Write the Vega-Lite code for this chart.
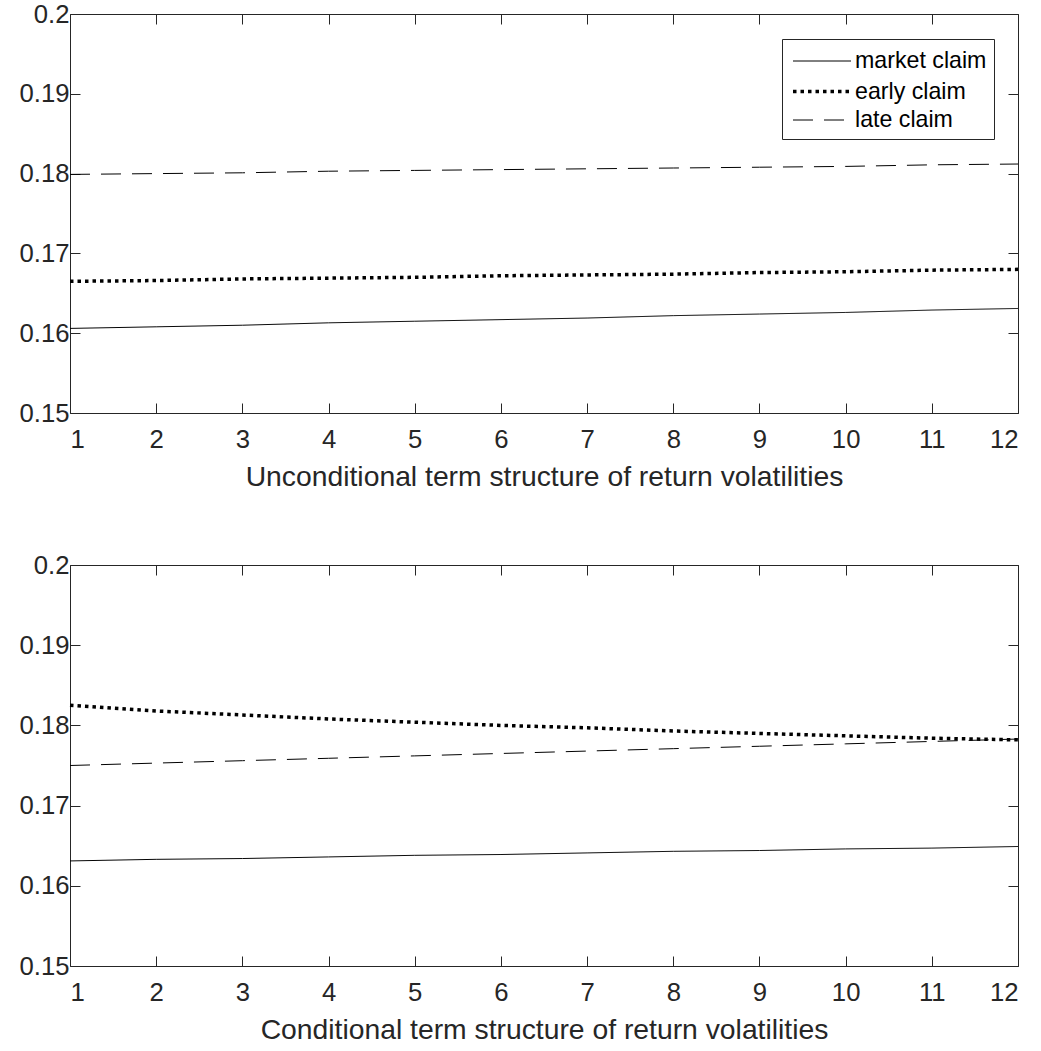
{
  "$schema": "https://vega.github.io/schema/vega-lite/v6.json",
  "padding": {"left": 18, "top": 0, "right": 5, "bottom": 5},
  "background": "white",
  "config": {
    "font": "Liberation Sans",
    "view": {"stroke": "#262626", "strokeWidth": 1},
    "axis": {
      "domain": false, "grid": false,
      "tickColor": "#262626", "tickSize": -10, "tickWidth": 1,
      "labelColor": "#262626", "labelFontSize": 25.7, "labelFont": "Liberation Sans",
      "titleColor": "#262626", "titleFontSize": 28.3, "titleFontWeight": "normal", "titleFont": "Liberation Sans"
    },
    "legend": {
      "orient": "none", "legendX": 712, "legendY": 25,
      "strokeColor": "#262626", "fillColor": "white", "padding": 7,
      "symbolType": "M-2,0H2", "symbolSize": 841, "symbolStrokeColor": "black", "symbolOffset": 16.5,
      "labelFontSize": 23.2, "labelColor": "#000000", "labelFont": "Liberation Sans",
      "labelOffset": 16.5, "rowPadding": 2
    }
  },
  "data": {"values": [
    {"panel": "top", "series": "market claim", "term": 1, "value": 0.1606},
    {"panel": "top", "series": "market claim", "term": 2, "value": 0.1608},
    {"panel": "top", "series": "market claim", "term": 3, "value": 0.1610},
    {"panel": "top", "series": "market claim", "term": 4, "value": 0.1613},
    {"panel": "top", "series": "market claim", "term": 5, "value": 0.1615},
    {"panel": "top", "series": "market claim", "term": 6, "value": 0.1617},
    {"panel": "top", "series": "market claim", "term": 7, "value": 0.1619},
    {"panel": "top", "series": "market claim", "term": 8, "value": 0.1622},
    {"panel": "top", "series": "market claim", "term": 9, "value": 0.1624},
    {"panel": "top", "series": "market claim", "term": 10, "value": 0.1626},
    {"panel": "top", "series": "market claim", "term": 11, "value": 0.1629},
    {"panel": "top", "series": "market claim", "term": 12, "value": 0.1631},
    {"panel": "top", "series": "early claim", "term": 1, "value": 0.1665},
    {"panel": "top", "series": "early claim", "term": 2, "value": 0.1666},
    {"panel": "top", "series": "early claim", "term": 3, "value": 0.1668},
    {"panel": "top", "series": "early claim", "term": 4, "value": 0.1669},
    {"panel": "top", "series": "early claim", "term": 5, "value": 0.1670},
    {"panel": "top", "series": "early claim", "term": 6, "value": 0.1672},
    {"panel": "top", "series": "early claim", "term": 7, "value": 0.1673},
    {"panel": "top", "series": "early claim", "term": 8, "value": 0.1674},
    {"panel": "top", "series": "early claim", "term": 9, "value": 0.1676},
    {"panel": "top", "series": "early claim", "term": 10, "value": 0.1677},
    {"panel": "top", "series": "early claim", "term": 11, "value": 0.1679},
    {"panel": "top", "series": "early claim", "term": 12, "value": 0.1680},
    {"panel": "top", "series": "late claim", "term": 1, "value": 0.1799},
    {"panel": "top", "series": "late claim", "term": 2, "value": 0.1800},
    {"panel": "top", "series": "late claim", "term": 3, "value": 0.1801},
    {"panel": "top", "series": "late claim", "term": 4, "value": 0.1803},
    {"panel": "top", "series": "late claim", "term": 5, "value": 0.1804},
    {"panel": "top", "series": "late claim", "term": 6, "value": 0.1805},
    {"panel": "top", "series": "late claim", "term": 7, "value": 0.1806},
    {"panel": "top", "series": "late claim", "term": 8, "value": 0.1807},
    {"panel": "top", "series": "late claim", "term": 9, "value": 0.1808},
    {"panel": "top", "series": "late claim", "term": 10, "value": 0.1809},
    {"panel": "top", "series": "late claim", "term": 11, "value": 0.1811},
    {"panel": "top", "series": "late claim", "term": 12, "value": 0.1812},
    {"panel": "bottom", "series": "market claim", "term": 1, "value": 0.1631},
    {"panel": "bottom", "series": "market claim", "term": 2, "value": 0.1633},
    {"panel": "bottom", "series": "market claim", "term": 3, "value": 0.1634},
    {"panel": "bottom", "series": "market claim", "term": 4, "value": 0.1636},
    {"panel": "bottom", "series": "market claim", "term": 5, "value": 0.1638},
    {"panel": "bottom", "series": "market claim", "term": 6, "value": 0.1639},
    {"panel": "bottom", "series": "market claim", "term": 7, "value": 0.1641},
    {"panel": "bottom", "series": "market claim", "term": 8, "value": 0.1643},
    {"panel": "bottom", "series": "market claim", "term": 9, "value": 0.1644},
    {"panel": "bottom", "series": "market claim", "term": 10, "value": 0.1646},
    {"panel": "bottom", "series": "market claim", "term": 11, "value": 0.1647},
    {"panel": "bottom", "series": "market claim", "term": 12, "value": 0.1649},
    {"panel": "bottom", "series": "early claim", "term": 1, "value": 0.1825},
    {"panel": "bottom", "series": "early claim", "term": 2, "value": 0.1818},
    {"panel": "bottom", "series": "early claim", "term": 3, "value": 0.1813},
    {"panel": "bottom", "series": "early claim", "term": 4, "value": 0.1808},
    {"panel": "bottom", "series": "early claim", "term": 5, "value": 0.1804},
    {"panel": "bottom", "series": "early claim", "term": 6, "value": 0.1800},
    {"panel": "bottom", "series": "early claim", "term": 7, "value": 0.1797},
    {"panel": "bottom", "series": "early claim", "term": 8, "value": 0.1793},
    {"panel": "bottom", "series": "early claim", "term": 9, "value": 0.1790},
    {"panel": "bottom", "series": "early claim", "term": 10, "value": 0.1787},
    {"panel": "bottom", "series": "early claim", "term": 11, "value": 0.1784},
    {"panel": "bottom", "series": "early claim", "term": 12, "value": 0.1782},
    {"panel": "bottom", "series": "late claim", "term": 1, "value": 0.1750},
    {"panel": "bottom", "series": "late claim", "term": 2, "value": 0.1753},
    {"panel": "bottom", "series": "late claim", "term": 3, "value": 0.1756},
    {"panel": "bottom", "series": "late claim", "term": 4, "value": 0.1759},
    {"panel": "bottom", "series": "late claim", "term": 5, "value": 0.1762},
    {"panel": "bottom", "series": "late claim", "term": 6, "value": 0.1765},
    {"panel": "bottom", "series": "late claim", "term": 7, "value": 0.1768},
    {"panel": "bottom", "series": "late claim", "term": 8, "value": 0.1771},
    {"panel": "bottom", "series": "late claim", "term": 9, "value": 0.1774},
    {"panel": "bottom", "series": "late claim", "term": 10, "value": 0.1777},
    {"panel": "bottom", "series": "late claim", "term": 11, "value": 0.1780},
    {"panel": "bottom", "series": "late claim", "term": 12, "value": 0.1783}
  ]},
  "spacing": 59,
  "resolve": {"scale": {"strokeDash": "independent", "strokeWidth": "independent"}},
  "vconcat": [
    {
      "width": 948, "height": 399,
      "transform": [{"filter": "datum.panel == 'top'"}],
      "layer": [
        {
          "mark": {"type": "line", "color": "black"},
          "encoding": {
            "x": {"field": "term", "type": "quantitative", "scale": {"domain": [1, 12], "nice": false, "zero": false},
                  "axis": {"values": [1,2,3,4,5,6,7,8,9,10,11,12], "title": "Unconditional term structure of return volatilities", "labelPadding": 24, "titlePadding": 12}},
            "y": {"field": "value", "type": "quantitative", "scale": {"domain": [0.15, 0.2], "nice": false, "zero": false},
                  "axis": {"values": [0.15,0.16,0.17,0.18,0.19,0.2], "format": ".2~f", "title": null, "labelPadding": 11}},
            "strokeDash": {"field": "series", "type": "nominal", "scale": {"type": "ordinal", "domain": ["market claim", "early claim", "late claim"], "range": [[1, 0], [3.5, 4], [20, 11]]}, "legend": {"title": null}},
            "strokeWidth": {"field": "series", "type": "nominal", "scale": {"type": "ordinal", "domain": ["market claim", "early claim", "late claim"], "range": [1, 3.5, 1]}, "legend": {"title": null}}
          }
        },
        {
          "mark": {"type": "line", "opacity": 0},
          "encoding": {
            "x": {"field": "term", "type": "quantitative", "axis": {"orient": "top", "values": [1,2,3,4,5,6,7,8,9,10,11,12], "labels": false, "title": null}},
            "y": {"field": "value", "type": "quantitative", "axis": {"orient": "right", "values": [0.15,0.16,0.17,0.18,0.19,0.2], "labels": false, "title": null}},
            "detail": {"field": "series"}
          }
        }
      ],
      "resolve": {"axis": {"x": "independent", "y": "independent"}}
    },
    {
      "width": 948, "height": 401,
      "transform": [{"filter": "datum.panel == 'bottom'"}],
      "layer": [
        {
          "mark": {"type": "line", "color": "black"},
          "encoding": {
            "x": {"field": "term", "type": "quantitative", "scale": {"domain": [1, 12], "nice": false, "zero": false},
                  "axis": {"values": [1,2,3,4,5,6,7,8,9,10,11,12], "title": "Conditional term structure of return volatilities", "labelPadding": 24, "titlePadding": 12}},
            "y": {"field": "value", "type": "quantitative", "scale": {"domain": [0.15, 0.2], "nice": false, "zero": false},
                  "axis": {"values": [0.15,0.16,0.17,0.18,0.19,0.2], "format": ".2~f", "title": null, "labelPadding": 11}},
            "strokeDash": {"field": "series", "type": "nominal", "scale": {"type": "ordinal", "domain": ["market claim", "early claim", "late claim"], "range": [[1, 0], [3.5, 4], [20, 11]]}, "legend": null},
            "strokeWidth": {"field": "series", "type": "nominal", "scale": {"type": "ordinal", "domain": ["market claim", "early claim", "late claim"], "range": [1, 3.5, 1]}, "legend": null}
          }
        },
        {
          "mark": {"type": "line", "opacity": 0},
          "encoding": {
            "x": {"field": "term", "type": "quantitative", "axis": {"orient": "top", "values": [1,2,3,4,5,6,7,8,9,10,11,12], "labels": false, "title": null}},
            "y": {"field": "value", "type": "quantitative", "axis": {"orient": "right", "values": [0.15,0.16,0.17,0.18,0.19,0.2], "labels": false, "title": null}},
            "detail": {"field": "series"}
          }
        }
      ],
      "resolve": {"axis": {"x": "independent", "y": "independent"}}
    }
  ]
}
